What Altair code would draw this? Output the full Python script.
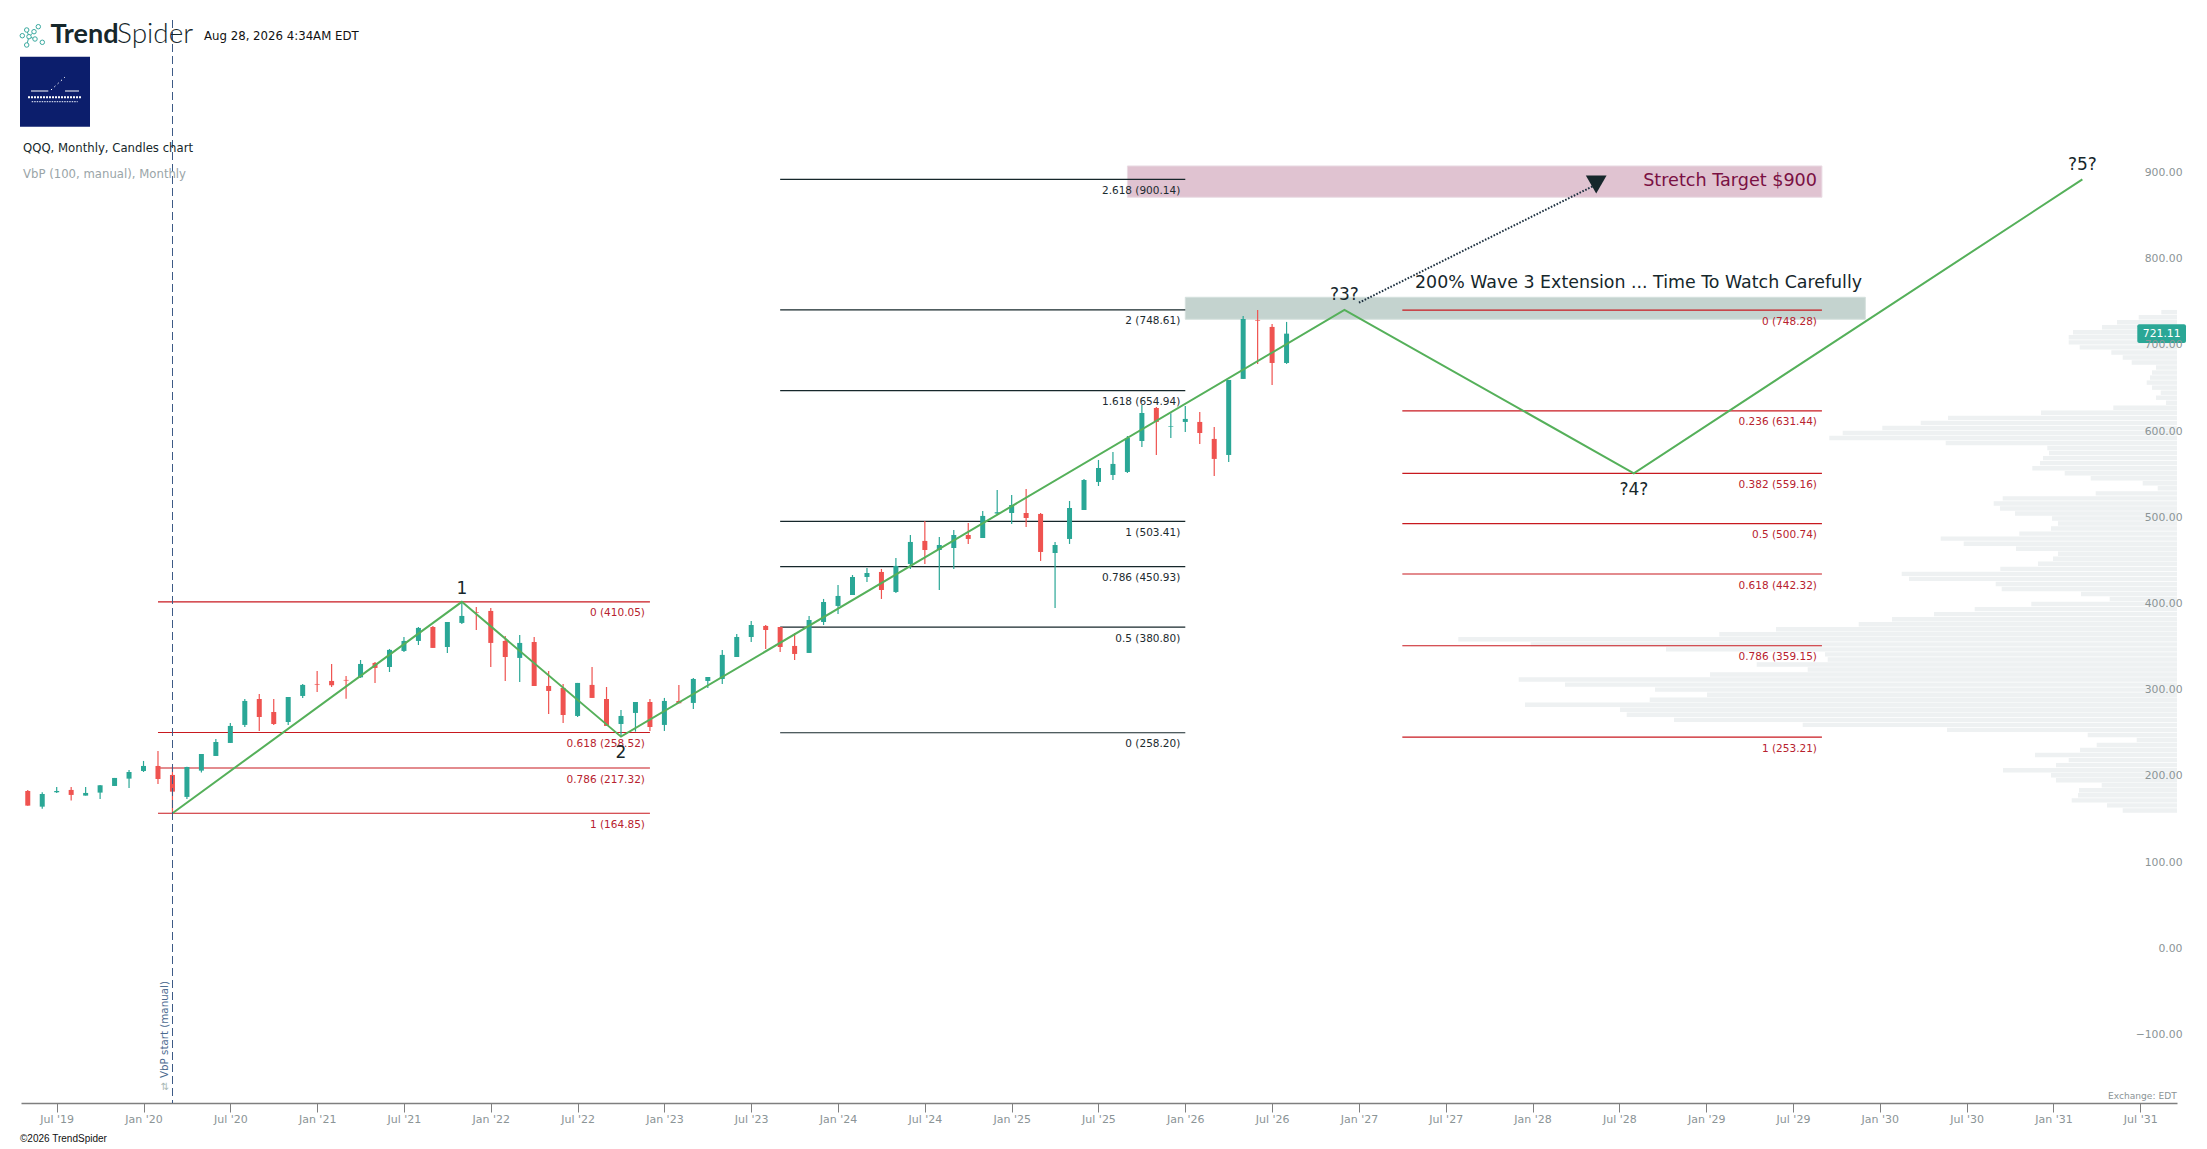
import altair as alt
import pandas as pd

# ---- candles: May 2019 (month index 4) .. Aug 2026 (month index 91) ----
first_month = 4
opens = [190.7,172.5,189.2,191.9,185.3,188.8,196.5,205.0,213.9,219.7,209.3,183.8,214.3,231.3,246.4,267.3,297.4,282.3,270.7,300.9,
         314.8,318.3,319.5,322.5,339.2,334.5,353.1,364.7,380.9,357.7,385.6,398.3,399.5,364.7,345.0,363.5,312.5,310.2,277.7,313.7,
         297.4,268.4,281.2,293.9,267.3,295.1,292.8,318.3,320.6,346.1,369.3,382.1,380.9,358.9,350.8,386.7,405.3,418.0,438.9,444.7,
         421.5,454.0,480.7,470.2,472.5,487.6,484.1,512.5,513.1,513.1,512.0,466.7,483.0,516.6,549.1,557.2,560.7,596.6,634.9,613.3,
         618.7,618.7,599.0,580.4,668.6,737.0,728.9,687.1]
highs = [191.9,189.2,195.3,195.3,195.3,197.7,205.8,215.1,225.5,237.1,218.9,218.9,233.6,251.0,269.6,297.4,303.2,297.4,299.7,314.8,
         329.9,338.0,324.1,342.6,340.3,355.4,369.3,380.9,382.1,386.7,410.05,404.1,402.9,370.5,371.6,369.3,329.9,314.8,316.0,334.5,
         311.3,284.6,293.9,297.4,298.6,313.7,321.8,322.9,354.3,372.8,387.9,383.2,380.9,373.9,393.7,413.4,429.6,441.2,449.3,448.2,
         460.9,487.6,503.9,485.3,493.4,501.6,515.5,539.8,534.0,541.0,513.1,479.5,527.0,552.6,574.6,583.9,602.4,638.4,636.1,628.7,
         637.2,630.3,612.9,667.4,741.6,748.6,732.3,734.7]
lows = [173.7,170.2,188.4,179.5,185.3,181.4,196.5,194.2,212.7,198.8,164.85,181.4,212.0,231.3,246.4,264.9,260.3,267.3,267.3,298.6,
        305.5,311.3,297.8,321.8,316.0,328.7,351.9,360.0,356.6,350.8,384.4,377.4,334.5,318.3,317.1,312.5,280.0,269.6,276.5,298.6,
        266.1,254.5,259.5,260.3,260.3,292.4,285.8,310.2,314.8,346.1,363.5,355.4,351.9,342.6,350.8,383.2,396.0,418.0,433.1,413.4,
        420.3,448.2,454.0,423.8,448.2,477.2,484.1,510.9,500.4,496.9,457.5,403.0,477.2,516.6,544.4,551.4,559.5,589.7,580.4,600.1,
        607.1,593.2,556.1,572.3,668.6,685.9,661.6,686.0]
closes = [173.7,187.2,190.7,186.1,188.4,197.3,205.8,212.7,219.7,204.6,189.9,218.5,233.6,247.5,266.1,295.1,276.5,268.4,299.7,313.7,
          314.0,313.3,318.7,338.0,333.4,354.3,364.7,379.8,356.6,386.7,393.7,397.5,362.4,346.1,362.4,312.5,306.7,278.8,316.0,298.6,
          266.1,277.7,293.9,264.9,295.1,292.4,320.6,322.9,348.5,369.3,383.2,377.4,357.7,349.6,389.0,409.9,416.9,438.9,443.5,423.8,
          451.7,479.5,470.2,476.0,487.6,483.0,509.7,514.0,522.4,507.3,467.9,476.0,518.9,551.4,565.3,570.0,600.1,629.1,618.7,614.0,
          622.2,605.9,575.8,667.4,738.1,736.2,687.1,721.11]

# ---- volume by price, top row to bottom row ----
vbp_high = 748.61
vbp_low = 164.85
vbp = [15.7,38.3,60,75,104,108.3,108.3,97.3,65.7,54.3,45.3,21,25,27,30.3,25,16.3,21,11,63.7,
       136,229,256.3,294.7,334.3,347.7,231.3,129.7,128,134,137,144.7,112.3,86.3,34.3,19.3,81.3,174.3,183.3,177,
       162,125,119,126,157.7,236.3,213.3,161,119,124,139,176.7,275.3,268,181.3,175.3,96,67.3,145.7,202.3,
       243,285,318.3,401,457.7,718.7,646.3,511,352,349.3,420.3,369.3,467,658.3,612,522,470,527.3,652,557,
       550.3,503,374.3,230,89.3,40.3,80.3,97,142,108.3,121,174,126,121,75.3,98,99,105.3,70,54.3]

# ---- fibonacci sets ----
fib_a_ratio = ["0","0.618","0.786","1"]
fib_a_value = [410.05,258.52,217.32,164.85]
fib_a_span = [13,47]
fib_b_ratio = ["2.618","2","1.618","1","0.786","0.5","0"]
fib_b_value = [900.14,748.61,654.94,503.41,450.93,380.80,258.20]
fib_b_span = [56,84]
fib_c_ratio = ["0","0.236","0.382","0.5","0.618","0.786","1"]
fib_c_value = [748.28,631.44,559.16,500.74,442.32,359.15,253.21]
fib_c_span = [99,128]

# ---- wave path ----
wave_m = [14,34,45,95,115,146]
wave_v = [164.85,410.05,253.7,748.6,559.2,900]
wave_text = ["","1","2","?3?","?4?","?5?"]
wave_dy = [0,-13,16,-14.5,16.5,-14.5]

arrow_m = [96,112.4]
arrow_v = [757,894]
y_ticks = [-100,0,100,200,300,400,500,600,700,800,900]
x_ticks = list(range(6,151,6))

FONT = "DejaVu Sans"
PL, PT = 21, 8
W, H = 2156, 1095
RIGHT = 152.54
PX_PER_MONTH = 14.469
xs = alt.Scale(domain=[3.5327,RIGHT], nice=False, zero=False, padding=0)
ys = alt.Scale(domain=[-171.2,1098.8], nice=False, zero=False, padding=0)
AX = alt.Axis(
    values=x_ticks, grid=False, domainColor="#7f7f7f", domainWidth=1.5, tickColor="#7f7f7f",
    tickSize=9, tickWidth=1, labelColor="#8b9496", labelFont=FONT, labelFontSize=11, labelPadding=1,
    labelOverlap=False, labelFlush=False, title=None,
    labelExpr="(datum.value % 12 == 0 ? 'Jan' : 'Jul') + \" '\" + (19 + floor(datum.value / 12))")
AY = alt.Axis(
    orient="right", values=y_ticks, grid=False, domain=False, ticks=False, tickSize=0, format=".2f",
    labelColor="#8b9496", labelFont=FONT, labelFontSize=10.8, labelAlign="right", labelPadding=5,
    labelOffset=-7, labelOverlap=False, labelFlush=False, title=None, zindex=1)
X = lambda f: alt.X(f, type="quantitative", scale=xs, axis=AX)
Y = lambda f: alt.Y(f, type="quantitative", scale=ys, axis=AY)

layers = []

# volume profile
step = (vbp_high - vbp_low) / len(vbp)
vb = pd.DataFrame({
    "x0": [RIGHT - v / PX_PER_MONTH for v in vbp],
    "x1": [RIGHT] * len(vbp),
    "ph": [vbp_high - i * step for i in range(len(vbp))],
    "pl": [vbp_high - (i + 0.88) * step for i in range(len(vbp))],
})
layers.append(alt.Chart(vb).mark_rect(color="#eef1f2").encode(x=X("x0"), x2="x1:Q", y=Y("pl"), y2="ph:Q"))

def band(m0, m1, v0, v1, fill, edge):
    d = pd.DataFrame({"m0":[m0],"m1":[m1],"v0":[v0],"v1":[v1]})
    return alt.Chart(d).mark_rect(fill=fill, stroke=edge, strokeWidth=1).encode(
        x=X("m0"), x2="m1", y=Y("v0"), y2="v1")

layers.append(band(80,128,879.3,915.6,"#e0c3d1","#eadbe3"))
layers.append(band(84,131,737.8,763.3,"#c4d3cf","#d5e0dd"))

def fib(ratios, values, span, line, label):
    d = pd.DataFrame({"v":values,"m0":[span[0]]*len(values),"m1":[span[1]]*len(values),
                      "t":[f"{r} ({v:.2f})" for r,v in zip(ratios,values)]})
    rule = alt.Chart(d).mark_rule(color=line, strokeWidth=1.2).encode(x=X("m0"), x2="m1", y=Y("v"))
    text = alt.Chart(d).mark_text(font=FONT, fontSize=10.5, color=label, align="right", baseline="middle",
                                  dx=-5, dy=11.5).encode(x=X("m1"), y=Y("v"), text="t")
    return [rule, text]

layers += fib(fib_a_ratio, fib_a_value, fib_a_span, "#c8191f", "#b7222e")
layers += fib(fib_b_ratio, fib_b_value, fib_b_span, "#16272b", "#1c2b2f")
layers += fib(fib_c_ratio, fib_c_value, fib_c_span, "#c8191f", "#b7222e")

# candles
cd = pd.DataFrame({"m":[first_month+i for i in range(len(opens))],"o":opens,"h":highs,"l":lows,"c":closes})
cd["d"] = ["up" if c>=o else "down" for o,c in zip(opens,closes)]
col = alt.Color("d:N", scale=alt.Scale(domain=["up","down"], range=["#2aa796","#ef5350"]), legend=None)
layers.append(alt.Chart(cd).mark_rule(strokeWidth=1.2).encode(x=X("m"), y=Y("l"), y2="h", color=col))
layers.append(alt.Chart(cd).mark_bar(size=5).encode(x=X("m"), y=Y("o"), y2="c", color=col))

# wave
wd = pd.DataFrame({"m":wave_m,"v":wave_v,"t":wave_text,"dy":wave_dy,"i":range(len(wave_m))})
layers.append(alt.Chart(wd).mark_line(color="#55b05a", strokeWidth=2).encode(x=X("m"), y=Y("v"), order="i:Q"))
for _, r in wd.iterrows():
    if r["t"]:
        layers.append(alt.Chart(pd.DataFrame([{"m":r["m"],"v":r["v"],"t":r["t"]}])).mark_text(
            font=FONT, fontSize=17, color="#16272b", baseline="middle", dy=float(r["dy"])).encode(
            x=X("m"), y=Y("v"), text="t"))

# dotted arrow
ad = pd.DataFrame({"m":arrow_m,"v":arrow_v})
layers.append(alt.Chart(ad).mark_line(color="#1d3040", strokeWidth=2, strokeDash=[1.6,1.6]).encode(x=X("m"), y=Y("v")))
layers.append(alt.Chart(ad.tail(1)).mark_point(shape="triangle-down", size=430, filled=True, color="#16272b", opacity=1).encode(
    x=X("m"), y=Y("v")))

def txt(t, x, y, size=11, color="#111111", align="left", font=FONT, weight=None, angle=None):
    kw = dict(font=font, fontSize=size, color=color, align=align, baseline="middle")
    if weight is not None: kw["fontWeight"] = weight
    if angle is not None: kw["angle"] = angle
    return alt.Chart(pd.DataFrame({"t":[t]})).mark_text(**kw).encode(
        x=alt.value(x-PL), y=alt.value(y-PT), text="t")

def seg(x0, y0, x1, y1, color, w=1, dash=None):
    kw = dict(color=color, strokeWidth=w)
    if dash: kw["strokeDash"] = dash
    return alt.Chart(pd.DataFrame({"a":[1]})).mark_rule(**kw).encode(
        x=alt.value(x0-PL), x2=alt.value(x1-PL), y=alt.value(y0-PT), y2=alt.value(y1-PT))

# annotations
layers.append(txt("Stretch Target $900", 1817, 181.4, size=17.6, color="#7a1043", align="right"))
layers.append(txt("200% Wave 3 Extension ... Time To Watch Carefully", 1415, 282.7, size=17.4, color="#16272b"))

# VbP start marker
layers.append(seg(172.5,20,172.5,1103,"#3d5a86",1,[8,4]))
layers.append(txt("VbP start (manual)", 165, 1078, size=10.3, color="#4c6a8f", angle=270))
layers.append(txt("⇅", 165, 1087, size=10, color="#a8b8b4", align="center"))

# price tag
layers.append(alt.Chart(pd.DataFrame({"a":[721.11+10.8],"b":[721.11-10.8]})).mark_rect(color="#2aa796", cornerRadius=2).encode(
    x=alt.value(2137.3-PL), x2=alt.value(2186-PL), y=Y("a"), y2="b"))
layers.append(alt.Chart(pd.DataFrame({"v":[721.11],"t":["721.11"]})).mark_text(
    font=FONT, fontSize=10.8, color="white", baseline="middle", align="center").encode(
    x=alt.value(2161.7-PL), y=Y("v"), text="t"))

# header
layers.append(txt("Trend", 50.4, 35, size=27, color="#16272b", font="Lato", weight=700))
layers.append(txt("Spider", 117, 35, size=28, color="#16272b", font="Lato", weight=300))
layers.append(txt("Aug 28, 2026 4:34AM EDT", 204, 35.7, size=11.75, color="#111111"))
layers.append(txt("QQQ, Monthly, Candles chart", 23, 147.7, size=11.7, color="#16272b"))
layers.append(txt("VbP (100, manual), Monthly", 23, 173.7, size=11.7, color="#9aa5a8"))
layers.append(txt("Exchange: EDT", 2176.7, 1096, size=9.1, color="#8b9496", align="right"))
layers.append(txt("©2026 TrendSpider", 20, 1139, size=10, color="#111111", font="Liberation Sans"))

# logo mark
for a in [(26.7,30,29,36.7),(29,36.7,26.7,45),(29,36.7,35,39),(29,36.7,34,31.7)]:
    layers.append(seg(*a,"#3aa99f",1))
for cx,cy in [(38.3,26.7),(26.7,30),(34,31.7),(22.3,35.7),(29,36.7),(35,39),(42.3,42.3),(26.7,45)]:
    layers.append(alt.Chart(pd.DataFrame({"a":[1]})).mark_point(shape="circle", size=20, color="#3aa99f", fill="white", opacity=1, strokeWidth=1).encode(
        x=alt.value(cx-PL), y=alt.value(cy-PT)))

# blue badge
layers.append(alt.Chart(pd.DataFrame({"a":[1]})).mark_rect(color="#0c1e6c").encode(
    x=alt.value(20-PL), x2=alt.value(90-PL), y=alt.value(56.7-PT), y2=alt.value(126.7-PT)))
layers.append(seg(31,91,48.3,91,"white",1))
layers.append(seg(65,91,79,91,"white",1))
layers.append(seg(51,90,65,77,"white",1,[1.5,3]))
layers.append(seg(28,97.3,82,97.3,"white",2,[2,1]))
layers.append(seg(31.7,101.7,77.7,101.7,"#c9cfe6",1.2,[1.5,1]))

chart = alt.layer(*layers).properties(
    width=W, height=H,
    autosize=alt.AutoSizeParams(type="none"),
    padding={"left":PL-8,"top":PT-8,"right":22,"bottom":41},
    background="white",
).configure_view(stroke=None)

chart.save("out.html", embed_options={"renderer": "svg", "actions": False})
